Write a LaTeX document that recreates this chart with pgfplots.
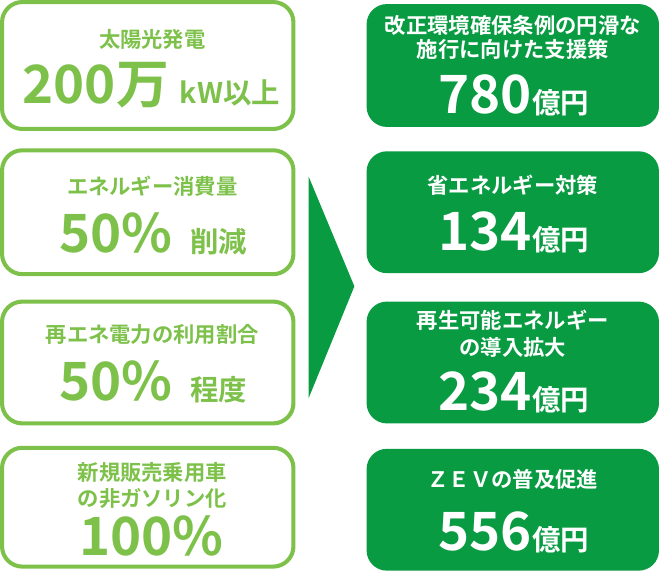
\documentclass[border=0pt]{standalone}
\usepackage{pgfplots}
\pgfplotsset{compat=1.18}
\usepackage{pgfplotstable}
\usepackage{fontspec}
\setmainfont{Noto Sans CJK JP Bold}
\definecolor{lg}{HTML}{7DC14A}
\definecolor{dg}{HTML}{089B42}

% budget per measure (億円), baseline position in the right column
\pgfplotstableread{
x   y    val
513 120  780
513 255  134
513 412  234
513 550  556
}\budget

\newcommand{\sm}{\fontsize{21}{25}\selectfont}
\newcommand{\bignum}{\fontsize{52}{52}\selectfont}
\newcommand{\unit}{\fontsize{28}{28}\selectfont}

\begin{document}
\begin{tikzpicture}
\begin{axis}[
  x=1pt, y=1pt, xmin=0, xmax=659, ymin=0, ymax=573,
  y dir=reverse, hide axis, clip=false,
]
% left: targets (outlined boxes)
\addplot[draw=lg, line width=4pt, rounded corners=20pt] coordinates {(153,10)(296,10)(296,135)(9,135)(9,10)} -- cycle;
\addplot[draw=lg, line width=4pt, rounded corners=20pt] coordinates {(153,156)(296,156)(296,278)(9,278)(9,156)} -- cycle;
\addplot[draw=lg, line width=4pt, rounded corners=20pt] coordinates {(153,305)(296,305)(296,425)(9,425)(9,305)} -- cycle;
\addplot[draw=lg, line width=4pt, rounded corners=20pt] coordinates {(153,449)(296,449)(296,566)(9,566)(9,449)} -- cycle;
% arrow
\addplot[fill=dg, draw=none] coordinates {(311,182)(356,290)(311,400)} -- cycle;
% right: budgets (filled boxes)
\addplot[fill=dg, draw=none, rounded corners=20pt] coordinates {(512,12)(656,12)(656,133)(368,133)(368,12)} -- cycle;
\addplot[fill=dg, draw=none, rounded corners=20pt] coordinates {(512,157)(656,157)(656,277)(368,277)(368,157)} -- cycle;
\addplot[fill=dg, draw=none, rounded corners=20pt] coordinates {(512,305)(656,305)(656,425)(368,425)(368,305)} -- cycle;
\addplot[fill=dg, draw=none, rounded corners=20pt] coordinates {(512,450)(656,450)(656,570)(368,570)(368,450)} -- cycle;

\addplot[draw=none, mark=none, point meta=explicit symbolic,
  nodes near coords={{\bignum\pgfplotspointmeta}{\unit 億円}},
  nodes near coords style={anchor=base, inner sep=0pt, text=white},
] table[x=x, y=y, meta=val] {\budget};

\begin{scope}[every node/.style={anchor=base, inner sep=0pt, text=lg}]
\node at (axis cs:157,55) {\sm 太陽光発電};
\node at (axis cs:156,110) {{\bignum 200万}\hspace{11pt}{\unit kW以上}};
\node at (axis cs:157,200) {\sm エネルギー消費量};
\node at (axis cs:158,257) {{\bignum 50\%}\hspace{17pt}{\unit 削減}};
\node at (axis cs:157,345) {\sm 再エネ電力の利用割合};
\node at (axis cs:158,402) {{\bignum 50\%}\hspace{17pt}{\unit 程度}};
\node at (axis cs:157,481) {\sm 新規販売乗用車};
\node at (axis cs:157,507) {\sm の非ガソリン化};
\node at (axis cs:156,555) {\bignum 100\%};
\end{scope}
\begin{scope}[every node/.style={anchor=base, inner sep=0pt, text=white}]
\node at (axis cs:512,41) {\sm 改正環境確保条例の円滑な};
\node at (axis cs:512,65) {\sm 施行に向けた支援策};
\node at (axis cs:512,199) {\sm 省エネルギー対策};
\node at (axis cs:512,332) {\sm 再生可能エネルギー};
\node at (axis cs:512,358) {\sm の導入拡大};
\node at (axis cs:512,488) {\sm ＺＥＶの普及促進};
\end{scope}
\end{axis}
\end{tikzpicture}
\end{document}
